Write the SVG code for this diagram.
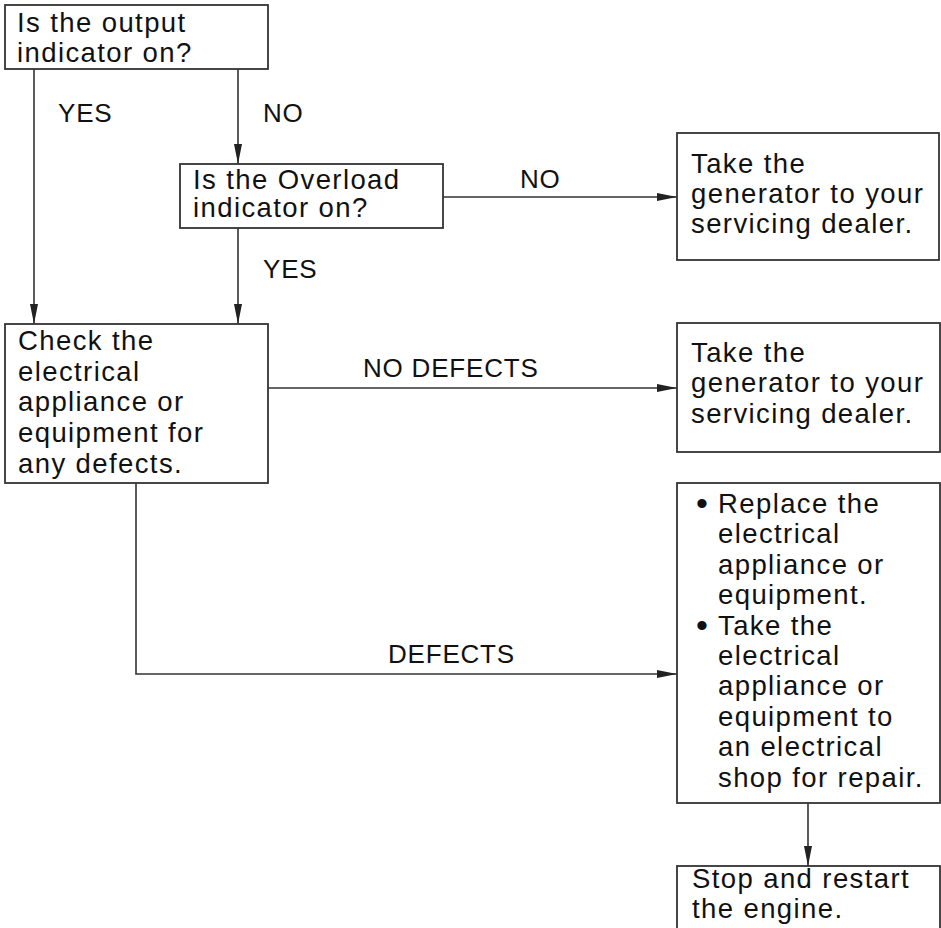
<svg xmlns="http://www.w3.org/2000/svg" width="941" height="928" viewBox="0 0 941 928">
<defs>
<style>
.box{fill:#fff;stroke:#333;stroke-width:1.8}
.t{font-family:"Liberation Sans",Arial,sans-serif;font-size:27.5px;letter-spacing:1.4px;fill:#111}
.b{font-family:"Liberation Sans",Arial,sans-serif;font-size:34px;fill:#111}
.lbl{font-family:"Liberation Sans",Arial,sans-serif;font-size:26px;letter-spacing:0.8px;fill:#111}
.c{fill:none;stroke:#333;stroke-width:1.6}
</style>
<marker id="ah" markerUnits="userSpaceOnUse" markerWidth="20" markerHeight="8" refX="20" refY="4" orient="auto">
<path d="M0,0 L20,4 L0,8 z" fill="#222"/>
</marker>
</defs>
<rect width="941" height="928" fill="#fff"/>
<g id="connectors">
<path class="c" d="M34,69 V324" marker-end="url(#ah)"/>
<path class="c" d="M238,69 V164" marker-end="url(#ah)"/>
<path class="c" d="M238,228 V324" marker-end="url(#ah)"/>
<path class="c" d="M443,197 H677" marker-end="url(#ah)"/>
<path class="c" d="M268,388 H677" marker-end="url(#ah)"/>
<path class="c" d="M136,483 V674 H677" marker-end="url(#ah)"/>
<path class="c" d="M808,803 V866" marker-end="url(#ah)"/>
<text class="lbl" x="58" y="122">YES</text>
<text class="lbl" x="263" y="122">NO</text>
<text class="lbl" x="520" y="188">NO</text>
<text class="lbl" x="263" y="278">YES</text>
<text class="lbl" x="363" y="377">NO DEFECTS</text>
<text class="lbl" x="388" y="663">DEFECTS</text>
</g>
<g id="n1">
<rect class="box" x="5" y="5" width="263" height="64"/>
<text class="t" x="17" y="32">Is the output</text>
<text class="t" x="17" y="62">indicator on?</text>
</g>
<g id="n2">
<rect class="box" x="180" y="164" width="263" height="64"/>
<text class="t" x="193" y="189">Is the Overload</text>
<text class="t" x="193" y="217">indicator on?</text>
</g>
<g id="n3">
<rect class="box" x="677" y="133" width="262" height="127"/>
<text class="t" x="691" y="173">Take the</text>
<text class="t" x="691" y="203">generator to your</text>
<text class="t" x="691" y="233">servicing dealer.</text>
</g>
<g id="n4">
<rect class="box" x="5" y="324" width="263" height="159"/>
<text class="t" x="18" y="350">Check the</text>
<text class="t" x="18" y="381">electrical</text>
<text class="t" x="18" y="411">appliance or</text>
<text class="t" x="18" y="442">equipment for</text>
<text class="t" x="18" y="473">any defects.</text>
</g>
<g id="n5">
<rect class="box" x="677" y="323" width="263" height="129"/>
<text class="t" x="691" y="362">Take the</text>
<text class="t" x="691" y="392">generator to your</text>
<text class="t" x="691" y="423">servicing dealer.</text>
</g>
<g id="n6">
<rect class="box" x="677" y="483" width="263" height="320"/>
<text class="b" x="696" y="515">•</text>
<text class="t" x="718" y="513">Replace the</text>
<text class="t" x="718" y="543.4">electrical</text>
<text class="t" x="718" y="573.8">appliance or</text>
<text class="t" x="718" y="604.2">equipment.</text>
<text class="b" x="696" y="636.6">•</text>
<text class="t" x="718" y="634.6">Take the</text>
<text class="t" x="718" y="665">electrical</text>
<text class="t" x="718" y="695.4">appliance or</text>
<text class="t" x="718" y="725.8">equipment to</text>
<text class="t" x="718" y="756.2">an electrical</text>
<text class="t" x="718" y="786.6">shop for repair.</text>
</g>
<g id="n7">
<rect class="box" x="677" y="866" width="263" height="80"/>
<text class="t" x="692" y="888">Stop and restart</text>
<text class="t" x="692" y="918">the engine.</text>
</g>
</svg>
